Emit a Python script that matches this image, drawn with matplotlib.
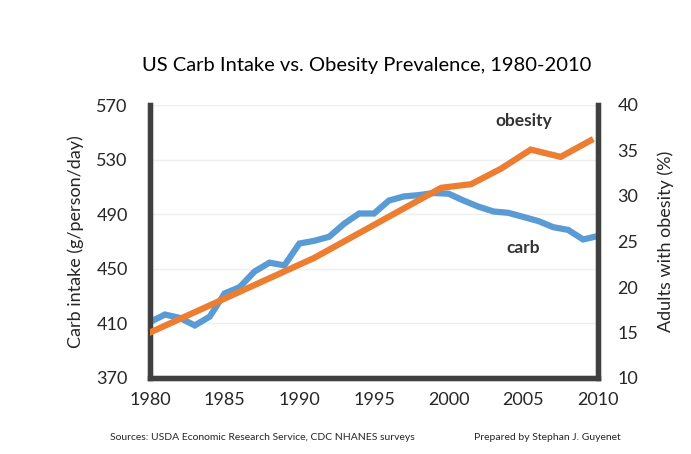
import matplotlib
matplotlib.use("Agg")
import matplotlib.pyplot as plt

# carb intake, g/person/day (USDA ERS)
carb_years = list(range(1980, 2011))
carb = [411, 416.5, 414, 408.5, 415, 432, 436.5, 448, 454.5, 452.5,
        468.5, 470.5, 473.5, 483, 490.5, 490.5, 500, 503, 504, 505.5,
        505, 500, 495.5, 492, 491, 488, 485, 480.5, 478.5, 471.5, 474]

# adult obesity prevalence, % (CDC NHANES)
ob_years = [1980, 1991, 1999.5, 2001.5, 2003.5, 2005.5, 2007.5, 2009.5]
obesity = [15.0, 23.2, 30.9, 31.3, 33.0, 35.1, 34.3, 36.1]

blue = "#5b9bd5"
orange = "#ed7d31"
dark = "#404040"
txt = "#262626"

plt.rcParams['font.family'] = ['Lato', 'DejaVu Sans']

fig = plt.figure(figsize=(6.91, 4.54), dpi=100)
ax = fig.add_axes([150/691, 1-378/454, 448/691, 273/454])
ax2 = ax.twinx()

ax.plot(carb_years, carb, color=blue, lw=4.5, solid_joinstyle='miter', zorder=3)
ax2.plot(ob_years, obesity, color=orange, lw=4.5, solid_joinstyle='miter', zorder=3)

ax.set_xlim(1980, 2010)
ax.set_ylim(370, 570)
ax.set_yticks(range(370, 571, 40))
ax.set_xticks(range(1980, 2011, 5))
ax2.set_ylim(10, 40)
ax2.set_yticks(range(10, 41, 5))

ax.grid(axis='y', color='#efefef', lw=1)
ax.set_axisbelow(True)

for a in (ax, ax2):
    a.spines['top'].set_visible(False)
    for s in ('left', 'right', 'bottom'):
        a.spines[s].set_color(dark)
        a.spines[s].set_linewidth(3.8)
    a.tick_params(length=0, labelsize=13, colors=txt)
ax.tick_params(axis='y', pad=16)
ax.tick_params(axis='x', pad=10)
ax2.tick_params(axis='y', pad=14)

ax.set_ylabel("Carb intake (g/person/day)", fontsize=13, color=txt, labelpad=9)
ax2.set_ylabel("Adults with obesity (%)", fontsize=13, color=txt, labelpad=14)

fig.text(367/691, 1-65/454, "US Carb Intake vs. Obesity Prevalence, 1980-2010",
         ha='center', va='center', fontsize=14.5, color='#000000')

ax2.text(2005.0, 38.2, "obesity", ha='center', va='center', fontsize=12.5,
         fontweight='bold', color='#333333')
ax.text(2005.0, 465, "carb", ha='center', va='center', fontsize=12.5,
        fontweight='bold', color='#333333')

fig.text(110/691, 1-437/454, "Sources: USDA Economic Research Service, CDC NHANES surveys",
         ha='left', va='center', fontsize=7.5, color=txt)
fig.text(474/691, 1-437/454, "Prepared by Stephan J. Guyenet",
         ha='left', va='center', fontsize=7.5, color=txt)

fig.savefig("out.png", dpi=100, facecolor='white')
